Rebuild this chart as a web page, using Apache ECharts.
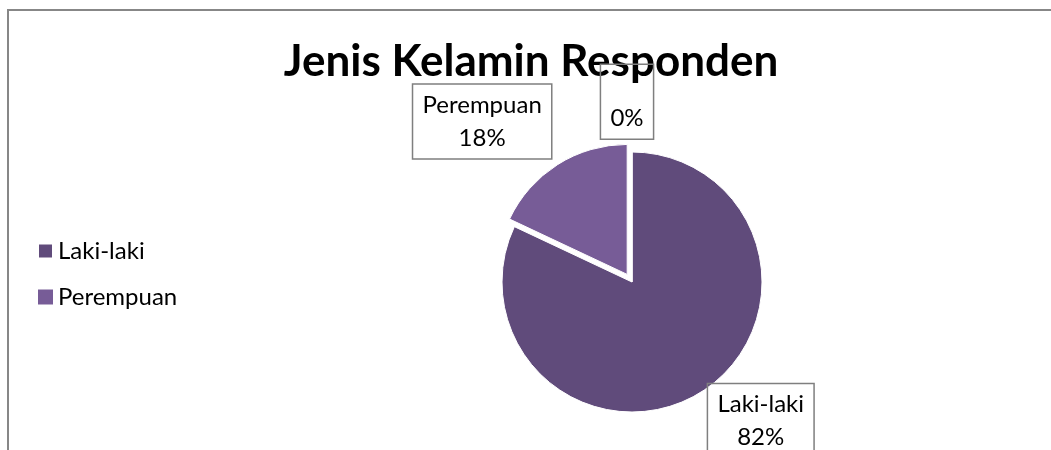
<!DOCTYPE html>
<html>
<head>
<meta charset="utf-8">
<script src="https://cdn.jsdelivr.net/npm/echarts@6/dist/echarts.min.js"></script>
<style>
  html, body { margin: 0; padding: 0; background: #ffffff; }
  #chart { width: 1051px; height: 450px; }
</style>
</head>
<body>
<div id="chart"></div>
<script>
// Respondent gender breakdown (percent of respondents)
const categories = ['Laki-laki', 'Perempuan', ''];
const shares = [82, 18, 0];
const legendItems = ['Laki-laki', 'Perempuan'];
const titleText = 'Jenis Kelamin Responden';

// Pie geometry and styling
const CX = 632, CY = 282, R = 130;
const EXPLODED = 1;          // Perempuan slice is pulled out of the pie
const EXPLODE_OFFSET = 9;
const sliceColors = ['#604B7B', '#775C97', '#5F497A'];
const FONT = 'Lato';

const total = shares.reduce((a, b) => a + b, 0);

// Unit direction (screen coords) through the middle of slice i,
// with angles measured clockwise from 12 o'clock.
function midDirection(i) {
  let before = 0;
  for (let k = 0; k < i; k++) before += shares[k];
  const mid = (before + shares[i] / 2) / total * Math.PI * 2;
  return [Math.sin(mid), -Math.cos(mid)];
}

const explodeDir = midDirection(EXPLODED);
const explodedCenter = [CX + EXPLODE_OFFSET * explodeDir[0], CY + EXPLODE_OFFSET * explodeDir[1]];

// Place each data label box just outside its slice, with the box corner
// nearest to the slice's outer edge point ("outside end" labels).
function placeLabel(p) {
  const i = p.dataIndex;
  const n = midDirection(i);
  const off = i === EXPLODED ? EXPLODE_OFFSET : 0;
  const ex = CX + (R + off) * n[0];
  const ey = CY + (R + off) * n[1];
  const w = p.labelRect.width, h = p.labelRect.height;
  const centred = Math.abs(n[0]) < 0.2;
  let x, y;
  if (centred) x = ex - 5;
  else if (n[0] > 0) x = ex + 5 + w / 2;
  else x = ex - 5 - w / 2;
  if (n[1] < 0) y = ey - (centred ? 12 : 5) - h / 2;
  else y = ey - 9 + h / 2;
  return { x: x, y: y, align: 'center', verticalAlign: 'middle' };
}

const hidden = {
  itemStyle: { color: 'rgba(0,0,0,0)', borderWidth: 0 },
  label: { show: false }
};

// Builds the slice list for one pie layer; slices not drawn by this layer
// keep their angle but are transparent and unlabeled.
function layerData(drawn) {
  return categories.map((name, i) => {
    const item = { name: name, value: shares[i] };
    if (drawn(i)) {
      item.itemStyle = { color: sliceColors[i] };
    } else {
      Object.assign(item, hidden);
    }
    return item;
  });
}

const labelStyle = {
  show: true,
  position: 'outside',
  formatter: '{b}\n{d}%',
  fontFamily: FONT,
  fontSize: 24,
  lineHeight: 33,
  color: '#000000',
  align: 'center',
  borderColor: '#7f7f7f',
  borderWidth: 1.5,
  padding: [4, 10, 5, 10]
};

function pieLayer(center, drawn) {
  return {
    type: 'pie',
    center: center,
    radius: R,
    startAngle: 90,
    clockwise: true,
    avoidLabelOverlap: false,
    z: 5,
    itemStyle: { borderColor: '#ffffff', borderWidth: 1 },
    emphasis: { disabled: true },
    label: labelStyle,
    labelLine: { show: false },
    labelLayout: placeLabel,
    data: layerData(drawn)
  };
}

const chart = echarts.init(document.getElementById('chart'), null, { renderer: 'canvas' });

chart.setOption({
  animation: false,
  graphic: [{
    type: 'rect',
    silent: true,
    z: 0,
    shape: { x: 8, y: 10, width: 1200, height: 600 },
    style: { fill: 'none', stroke: '#878787', lineWidth: 2 }
  }],
  title: {
    text: titleText,
    left: 531,
    textAlign: 'center',
    top: 40,
    padding: 0,
    z: 1,
    textStyle: { fontFamily: FONT, fontWeight: 'bold', fontSize: 44, color: '#000000' }
  },
  legend: {
    orient: 'vertical',
    left: 37,
    top: 239,
    padding: 0,
    data: legendItems.map(name => ({
      name: name,
      itemStyle: { color: sliceColors[categories.indexOf(name)] }
    })),
    icon: 'rect',
    itemWidth: 15,
    itemHeight: 15,
    itemGap: 22,
    selectedMode: false,
    textStyle: { fontFamily: FONT, fontSize: 24, color: '#000000' }
  },
  series: [
    pieLayer([CX, CY], i => i !== EXPLODED),
    pieLayer(explodedCenter, i => i === EXPLODED)
  ]
});
</script>
</body>
</html>
